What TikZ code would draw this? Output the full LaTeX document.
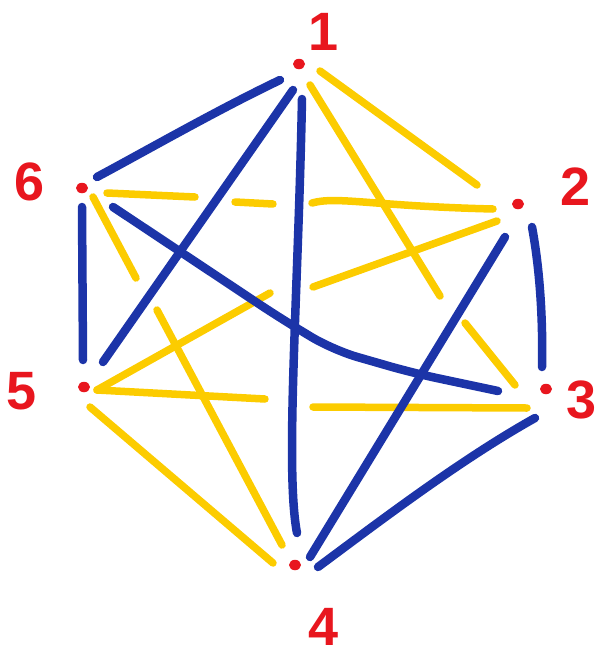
\documentclass[tikz,border=0pt]{standalone}
\usepackage{fontspec}
\setmainfont{Liberation Sans}
\usetikzlibrary{calc,shapes.geometric}
\definecolor{mblue}{RGB}{28,52,168}
\definecolor{myellow}{RGB}{252,204,0}
\definecolor{mred}{RGB}{232,22,30}
\begin{document}
\begin{tikzpicture}[x=1pt,y=-1pt,
  bl/.style={draw=mblue,line width=8.5pt,line cap=round,line join=round},
  yl/.style={draw=myellow,line width=7.5pt,line cap=round,line join=round},
  vtx/.style={ellipse,fill=mred,inner sep=0pt,minimum width=12pt,minimum height=10.5pt},
  lbl/.style={text=mred,inner sep=0pt,font=\fontsize{54}{54}\selectfont\bfseries}]
\useasboundingbox (0,0) rectangle (602,667);
% vertices
\node[vtx] (v1) at (299,64) {};
\node[vtx] (v2) at (518,204) {};
\node[vtx] (v3) at (546,389) {};
\node[vtx] (v4) at (295,565) {};
\node[vtx] (v5) at (84,387) {};
\node[vtx] (v6) at (82,188) {};
% labels
\node[lbl] (l1) at (324,32) {1};
\node[lbl] (l2) at (576,187) {2};
\node[lbl] (l3) at (582,400) {3};
\node[lbl] (l4) at (324,627) {4};
\node[lbl] (l5) at (22,391) {5};
\node[lbl] (l6) at (30,182) {6};
% yellow edges
\draw[yl] ($(v1)+(21,7)$) -- ($(v2)+(-41,-19)$);
\draw[yl] ($(v1)+(11,21)$) -- ($(v3)+(-106,-93)$);
\draw[yl] ($(v3)+(-81,-66)$) -- ($(v3)+(-31,-4)$);
\draw[yl] ($(v2)+(-21,17)$) -- ($(v5)+(229,-100)$);
\draw[yl] ($(v5)+(186,-94)$) -- ($(v5)+(13,3)$);
\draw[yl] ($(v6)+(230,15)$) .. controls ($(v6)+(255,8)$) and ($(v6)+(290,18)$) .. ($(v2)+(-25,5)$);
\draw[yl] ($(v6)+(153,14)$) -- ($(v6)+(191,16)$);
\draw[yl] ($(v6)+(25,5)$) -- ($(v6)+(113,9)$);
\draw[yl] ($(v5)+(13,3)$) -- ($(v5)+(181,12)$);
\draw[yl] ($(v5)+(229,20)$) -- ($(v3)+(-19,19)$);
\draw[yl] ($(v5)+(6,20)$) -- ($(v4)+(-22,-2)$);
\draw[yl] ($(v6)+(11,9)$) -- ($(v6)+(54,90)$);
\draw[yl] ($(v6)+(75,122)$) -- ($(v4)+(-13,-20)$);
% blue edges
\draw[bl] ($(v1)+(3,35)$) .. controls ($(v1)+(-1,236)$) and ($(v4)+(-10,-95)$) .. ($(v4)+(2,-32)$);
\draw[bl] ($(v1)+(-6,26)$) -- ($(v5)+(19,-25)$);
\draw[bl] ($(v1)+(-19,16)$) .. controls ($(v1)+(-80,45)$) and ($(v6)+(60,-35)$) .. ($(v6)+(15,-11)$);
\draw[bl] ($(v2)+(14,23)$) .. controls ($(v2)+(22,66)$) and ($(v3)+(-3,-69)$) .. ($(v3)+(-4,-22)$);
\draw[bl] ($(v2)+(-13,33)$) -- ($(v4)+(15,-8)$);
\draw[bl] ($(v3)+(-11,29)$) .. controls ($(v3)+(-86,71)$) and ($(v4)+(85,-44)$) .. ($(v4)+(23,2)$);
\draw[bl,rounded corners=25pt] ($(v6)+(31,19)$) -- ($(v6)+(198,130)$) -- ($(v3)+(-213,-39)$) -- ($(v3)+(-133,-16)$) -- ($(v3)+(-48,2)$);
\draw[bl] ($(v6)+(0,19)$) -- ($(v5)+(-1,-27)$);
\end{tikzpicture}
\end{document}
